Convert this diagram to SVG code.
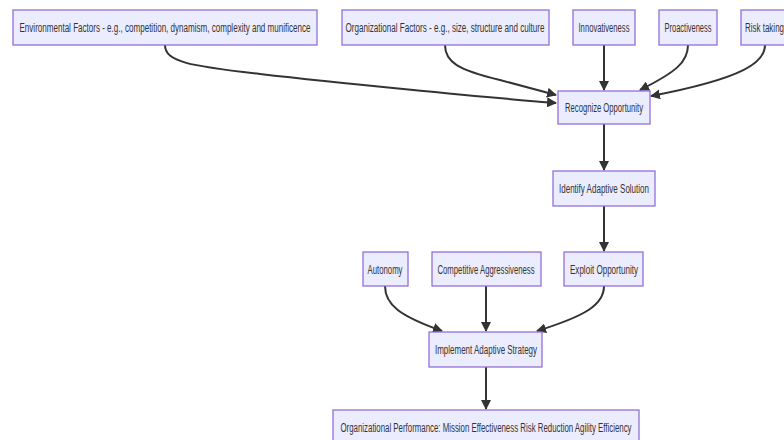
<svg xmlns="http://www.w3.org/2000/svg" width="784" height="440" viewBox="0 0 784 440">
<style>
.n rect{fill:#ECECFF;stroke:#9370DB;stroke-width:1.3}
.n text{font-family:"Liberation Sans",Arial,sans-serif;font-size:12.5px;fill:#333;text-anchor:middle}
.e path{fill:none;stroke:#333;stroke-width:2}
</style>
<defs>
<marker id="ah" markerUnits="userSpaceOnUse" markerWidth="10" markerHeight="10" refX="9" refY="5" orient="auto" viewBox="0 0 10 10">
<path d="M0,0 L10,5 L0,10 z" fill="#333"/>
</marker>
</defs>
<rect width="784" height="440" fill="#fff"/>
<g class="e">
<path d="M165,45 C165,62 190,66 260,74 S480,97 556,103" marker-end="url(#ah)"/>
<path d="M445,45 C445,62 458,70 500,80 L556,95" marker-end="url(#ah)"/>
<path d="M604,45 L604,90" marker-end="url(#ah)"/>
<path d="M688,45 C688,62 676,72 640,90" marker-end="url(#ah)"/>
<path d="M765,45 C765,62 745,78 651,96" marker-end="url(#ah)"/>
<path d="M604,124 L604,170" marker-end="url(#ah)"/>
<path d="M604,206 L604,251" marker-end="url(#ah)"/>
<path d="M385,286 C385,305 400,316 442,331" marker-end="url(#ah)"/>
<path d="M486,286 L486,331" marker-end="url(#ah)"/>
<path d="M604,286 C604,305 585,316 537,331" marker-end="url(#ah)"/>
<path d="M486,367 L486,409" marker-end="url(#ah)"/>
</g>
<g id="env" class="n"><rect x="13" y="10" width="304" height="35"/><text x="165" y="31.5" textLength="291" lengthAdjust="spacingAndGlyphs">Environmental Factors - e.g., competition, dynamism, complexity and munificence</text></g>
<g id="org" class="n"><rect x="342" y="10" width="207" height="35"/><text x="445" y="31.5" textLength="199" lengthAdjust="spacingAndGlyphs">Organizational Factors - e.g., size, structure and culture</text></g>
<g id="innov" class="n"><rect x="573" y="10" width="62" height="35"/><text x="604" y="31.5" textLength="51" lengthAdjust="spacingAndGlyphs">Innovativeness</text></g>
<g id="proact" class="n"><rect x="659" y="10" width="58" height="35"/><text x="688" y="31.5" textLength="47" lengthAdjust="spacingAndGlyphs">Proactiveness</text></g>
<g id="risk" class="n"><rect x="741" y="10" width="50" height="35"/><text x="764.5" y="31.5" textLength="39" lengthAdjust="spacingAndGlyphs">Risk taking</text></g>
<g id="recog" class="n"><rect x="558" y="91" width="92" height="33"/><text x="604" y="112" textLength="78" lengthAdjust="spacingAndGlyphs">Recognize Opportunity</text></g>
<g id="ident" class="n"><rect x="553" y="171" width="102" height="35"/><text x="604" y="193" textLength="90" lengthAdjust="spacingAndGlyphs">Identify Adaptive Solution</text></g>
<g id="auto" class="n"><rect x="363" y="252" width="45" height="34"/><text x="385" y="273.5" textLength="35" lengthAdjust="spacingAndGlyphs">Autonomy</text></g>
<g id="comp" class="n"><rect x="432" y="252" width="109" height="34"/><text x="486" y="273.5" textLength="97" lengthAdjust="spacingAndGlyphs">Competitive Aggressiveness</text></g>
<g id="exploit" class="n"><rect x="564" y="252" width="79" height="34"/><text x="604" y="273.5" textLength="68" lengthAdjust="spacingAndGlyphs">Exploit Opportunity</text></g>
<g id="impl" class="n"><rect x="429" y="332" width="113" height="35"/><text x="486" y="354" textLength="102" lengthAdjust="spacingAndGlyphs">Implement Adaptive Strategy</text></g>
<g id="perf" class="n"><rect x="333" y="410" width="306" height="35"/><text x="486" y="432" textLength="291" lengthAdjust="spacingAndGlyphs">Organizational Performance: Mission Effectiveness Risk Reduction Agility Efficiency</text></g>
</svg>
